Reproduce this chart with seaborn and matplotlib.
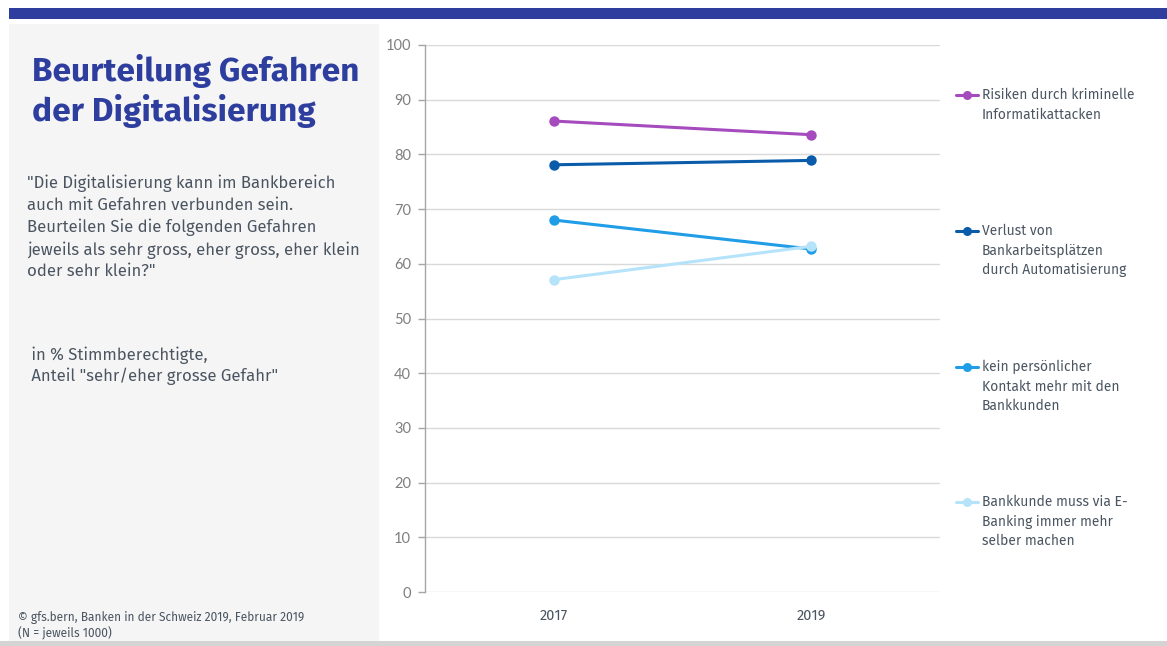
import matplotlib
matplotlib.use("Agg")
import matplotlib.pyplot as plt
from matplotlib.patches import Rectangle
from matplotlib.lines import Line2D
import pandas as pd
import seaborn as sns

# Survey results: share "sehr/eher grosse Gefahr" in % of voters
years = ["2017", "2019"]
series_labels = [
    "Risiken durch kriminelle\nInformatikattacken",
    "Verlust von\nBankarbeitsplätzen\ndurch Automatisierung",
    "kein persönlicher\nKontakt mehr mit den\nBankkunden",
    "Bankkunde muss via E-\nBanking immer mehr\nselber machen",
]
risiken = [86.1, 83.6]
verlust = [78.1, 78.9]
kein_kontakt = [68.0, 62.7]
selber_machen = [57.1, 63.2]
colors = ["#A54BBE", "#0A5BAA", "#1F9DE6", "#B5E3FA"]
y_ticks = [0, 10, 20, 30, 40, 50, 60, 70, 80, 90, 100]

title = "Beurteilung Gefahren\nder Digitalisierung"
question = ('"Die Digitalisierung kann im Bankbereich\n'
            'auch mit Gefahren verbunden sein.\n'
            'Beurteilen Sie die folgenden Gefahren\n'
            'jeweils als sehr gross, eher gross, eher klein\n'
            'oder sehr klein?"')
basis = ' in % Stimmberechtigte,\n Anteil "sehr/eher grosse Gefahr"'
source = "© gfs.bern, Banken in der Schweiz 2019, Februar 2019\n(N = jeweils 1000)"

values = [risiken, verlust, kein_kontakt, selber_machen]
df = pd.DataFrame(
    [(yr, lab, v) for lab, vals in zip(series_labels, values) for yr, v in zip(years, vals)],
    columns=["Jahr", "Gefahr", "Anteil"],
)

sns.set_theme(style="white")
plt.rcParams["font.family"] = ["Fira Sans", "Open Sans", "DejaVu Sans"]

W, H = 1167, 646
fig = plt.figure(figsize=(W / 100, H / 100), dpi=100)
fig.patch.set_facecolor("white")

# page decoration: header bar, side panel, bottom strip
fig.add_artist(Rectangle((9 / W, 1 - 19 / H), 1 - 9 / W, 11 / H, transform=fig.transFigure,
                         facecolor="#2E3E9E", edgecolor="none", zorder=0))
fig.add_artist(Rectangle((9 / W, 5 / H), 370 / W, (641 - 19 - 5) / H, transform=fig.transFigure,
                         facecolor="#F5F5F5", edgecolor="none", zorder=0))
fig.add_artist(Rectangle((0, 0), 1, 5 / H, transform=fig.transFigure,
                         facecolor="#D4D4D4", edgecolor="none", zorder=0))

ax = fig.add_axes([425 / W, (646 - 592) / H, (940 - 425) / W, (592 - 45) / H])
sns.lineplot(data=df, x="Jahr", y="Anteil", hue="Gefahr", hue_order=series_labels,
             palette=colors, marker="o", markersize=7.5, markeredgewidth=0,
             linewidth=2.2, legend=False, sort=False, ax=ax)

ax.set_xlim(-0.5, 1.5)
ax.set_ylim(0, 100)
ax.set_yticks(y_ticks)
ax.set_xlabel("")
ax.set_ylabel("")
ax.grid(axis="y", color="#D9D9D9", linewidth=1)
ax.set_axisbelow(True)
for s in ["top", "right", "bottom"]:
    ax.spines[s].set_visible(False)
ax.spines["left"].set_color("#A6A6A6")
ax.spines["left"].set_linewidth(1)
ax.tick_params(axis="y", length=5, width=1, color="#A6A6A6", labelsize=10.5,
               labelcolor="#7F7F7F", pad=5, left=True)
ax.tick_params(axis="x", length=0, labelsize=10.5, labelcolor="#4A5561", pad=12)
for t in ax.get_yticklabels():
    t.set_fontfamily(["Lato", "DejaVu Sans"])

# legend entries to the right of the plot, one per series
leg_rows = [95, 231, 367, 502]
for lab, col, yy in zip(series_labels, colors, leg_rows):
    yf = 1 - yy / H
    fig.add_artist(Line2D([956 / W, 978 / W], [yf, yf], transform=fig.transFigure,
                          color=col, linewidth=2.2))
    fig.add_artist(Line2D([967 / W], [yf], transform=fig.transFigure, color=col,
                          marker="o", markersize=6.5, markeredgewidth=0))
    # first text line centred on the handle
    fig.text(982 / W, yf + 7 / H, lab, ha="left", va="top", fontsize=10, color="#4A5561",
             linespacing=1.45, transform=fig.transFigure)

fig.text(32 / W, 1 - 54 / H, title, ha="left", va="top", fontsize=24, fontweight="bold",
         color="#2E3E9E", linespacing=1.25)
fig.text(27 / W, 1 - 175 / H, question, ha="left", va="top", fontsize=12, color="#4A5561",
         linespacing=1.38)
fig.text(27 / W, 1 - 346 / H, basis, ha="left", va="top", fontsize=12, color="#4A5561",
         linespacing=1.3)
fig.text(18 / W, 1 - 611 / H, source, ha="left", va="top", fontsize=8.6, color="#4A5561",
         linespacing=1.25)

fig.savefig("out.png", dpi=100, facecolor="white")
